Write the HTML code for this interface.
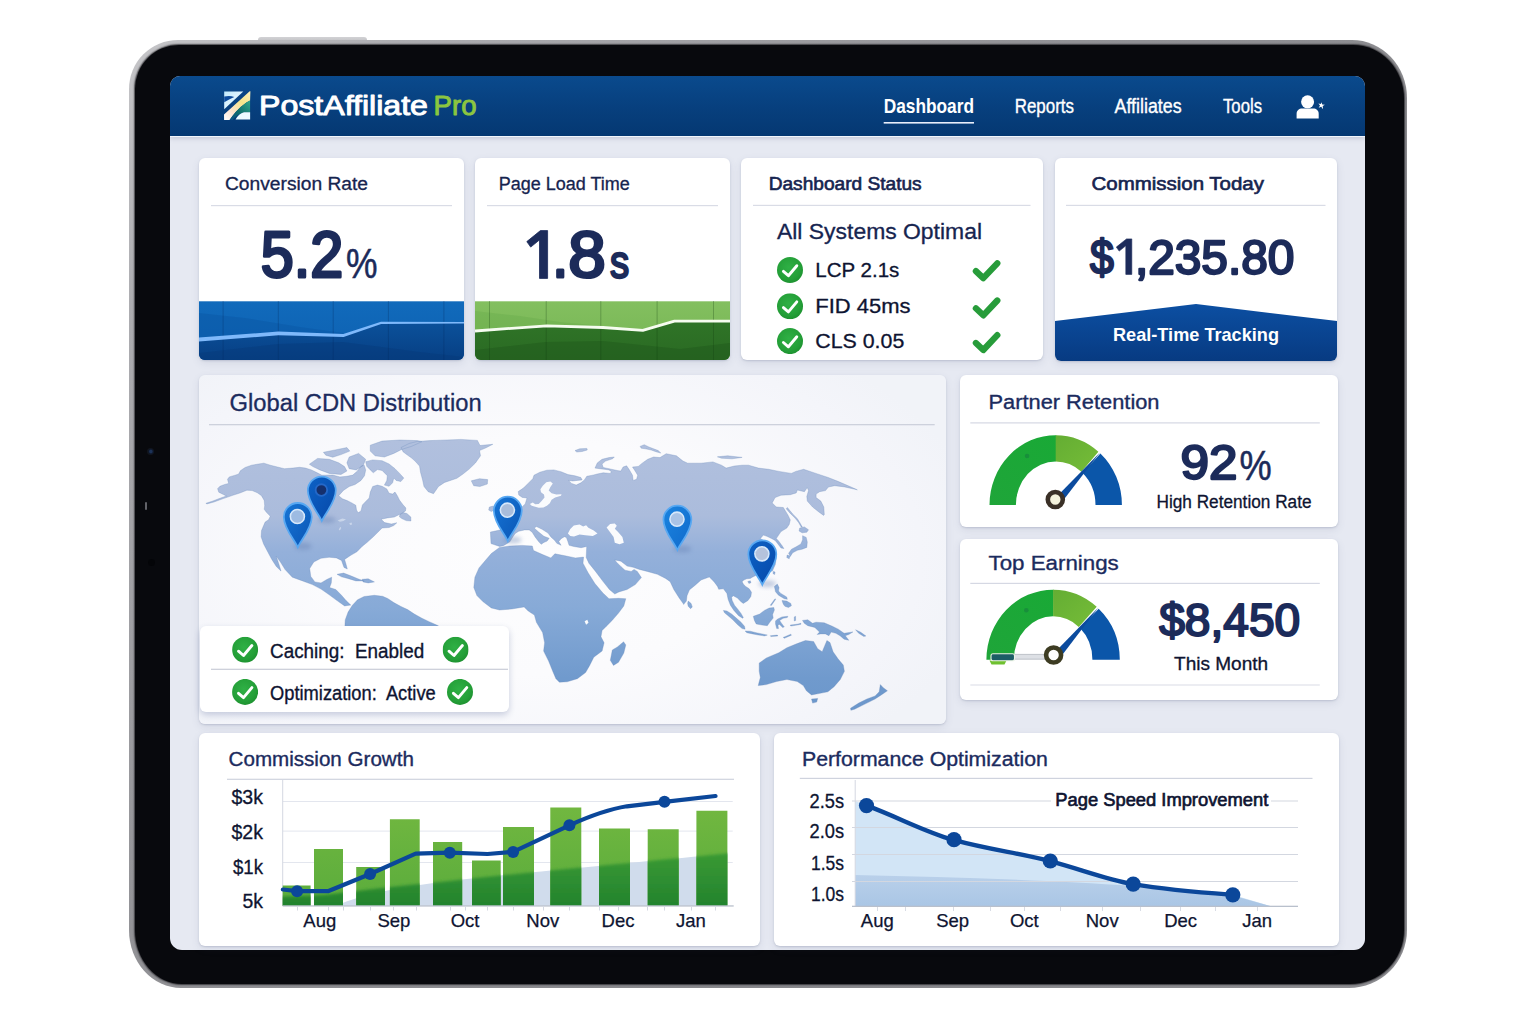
<!DOCTYPE html>
<html lang="en">
<head>
<meta charset="utf-8">
<title>Post Affiliate Pro Dashboard</title>
<style>
*{box-sizing:border-box;margin:0;padding:0}
html,body{width:1536px;height:1024px;overflow:hidden;background:#fff;font-family:"Liberation Sans",sans-serif}
.abs{position:absolute}
.btn-top{position:absolute;left:258px;top:36.5px;width:109px;height:8px;border-radius:3px 3px 0 0;background:linear-gradient(#d2d2d5,#b4b4b7)}
.tablet{position:absolute;left:129px;top:40px;width:1278px;height:947.5px;border-radius:49px 55px 58px 52px / 49px 58px 58px 58px;
  background:linear-gradient(135deg,#c6c6c9 0%,#adadb1 12%,#939397 40%,#88888c 70%,#8e8e92 100%)}
.bezel{position:absolute;left:5.5px;top:5px;right:3.5px;bottom:4px;border-radius:44px 51px 54px 47px / 44px 54px 54px 54px;background:#08090d;box-shadow:0 0 1.5px 1px rgba(20,20,24,.7)}
.screen{position:absolute;left:170px;top:76px;width:1195px;height:874px;border-radius:10px 10px 11px 12px;background:#e6e9f2;overflow:hidden}
.nav{position:absolute;left:0;top:0;width:1195px;height:60px;background:linear-gradient(#0a4a8d,#073f7d 55%,#053872);box-shadow:0 1px 0 #f1f5fc,0 3px 4px rgba(120,125,160,.25)}
.card{position:absolute;background:#fff;border-radius:6px;box-shadow:0 1px 2px rgba(70,80,120,.20),0 3px 8px rgba(70,80,120,.11);overflow:hidden}
.card svg{position:absolute;left:0;top:0;display:block}
svg text{font-family:"Liberation Sans",sans-serif}
.full{position:absolute;left:0;top:0;width:1536px;height:1024px;pointer-events:none}
</style>
</head>
<body>
<div class="btn-top"></div>
<div class="tablet"><div class="bezel"></div></div>
<div class="cam" style="position:absolute;left:147.3px;top:448px;width:7px;height:7px;border-radius:50%;background:radial-gradient(circle at 55% 50%,#1c3258 0 22%,#0e1626 45%,#121318 75%,#08090d 100%)"></div>
<div class="cam" style="position:absolute;left:145px;top:501.5px;width:1.6px;height:8px;border-radius:1px;background:#b9bcc4;opacity:.5"></div>
<div class="cam" style="position:absolute;left:147.5px;top:559px;width:7px;height:7px;border-radius:50%;background:#040508"></div>
<div class="screen">
  <div class="nav"></div>
</div>

<!-- CARDS (global coordinates) -->
<div id="cards">
  <div class="card" id="c1" style="left:199px;top:158px;width:265px;height:202px"></div>
  <div class="card" id="c2" style="left:475px;top:158px;width:255px;height:202px"></div>
  <div class="card" id="c3" style="left:741px;top:158px;width:302px;height:202px"></div>
  <div class="card" id="c4" style="left:1055px;top:158px;width:282px;height:202.5px"></div>
  <div class="card" id="c5" style="left:199px;top:375px;width:747px;height:348.5px;background:radial-gradient(ellipse 62% 75% at 44% 52%,#fdfdfe 0%,#fbfbfd 45%,#f4f5fa 85%,#f1f3f8 100%)"></div>
  <div class="card" id="c6" style="left:960px;top:375px;width:378px;height:152px"></div>
  <div class="card" id="c7" style="left:960px;top:539px;width:378px;height:161px"></div>
  <div class="card" id="c8" style="left:199px;top:733px;width:561px;height:213px"></div>
  <div class="card" id="c9" style="left:774px;top:733px;width:565px;height:213px"></div>
</div>

<!-- OVERLAY: all graphics + text in global pixel coordinates -->
<svg class="full" viewBox="0 0 1536 1024">
<defs>
  <clipPath id="k1"><rect x="199" y="158" width="265" height="202" rx="6"/></clipPath>
  <clipPath id="k2"><rect x="475" y="158" width="255" height="202" rx="6"/></clipPath>
  <clipPath id="k4"><rect x="1055" y="158" width="282" height="203" rx="6"/></clipPath>
  <linearGradient id="gBlueBan" x1="0" y1="0" x2="0" y2="1"><stop offset="0" stop-color="#0c4fa2"/><stop offset="1" stop-color="#073a81"/></linearGradient>
  <symbol id="okc" viewBox="0 0 26 26"><circle cx="13" cy="13" r="13" fill="url(#gOk)"/><path d="M6.4 14.4l5 4.3 8.4-10" fill="none" stroke="#fff" stroke-width="2.9" stroke-linecap="round" stroke-linejoin="round"/></symbol>
  <symbol id="chk" viewBox="0 0 28 24" overflow="visible"><path d="M4.2 11.6l7.4 7 14-14.8" fill="none" stroke="#279c3a" stroke-width="6.3" stroke-linecap="round" stroke-linejoin="round"/></symbol>
  <linearGradient id="gGreenL" x1="0" y1="1" x2="1" y2="0"><stop offset="0" stop-color="#1fa539"/><stop offset="1" stop-color="#19a936"/></linearGradient>
  <linearGradient id="gGreenR" x1="0" y1="0" x2="1" y2="1"><stop offset="0" stop-color="#64ad33"/><stop offset="1" stop-color="#76bd38"/></linearGradient>
  <linearGradient id="gBarTop" x1="0" y1="0" x2="0" y2="1"><stop offset="0" stop-color="#73b840"/><stop offset="1" stop-color="#5aac3c"/></linearGradient>
  <linearGradient id="gBarBot" x1="0" y1="0" x2="0" y2="1"><stop offset="0" stop-color="#3a9a34"/><stop offset="1" stop-color="#1f7f2c"/></linearGradient>
  <clipPath id="k5"><rect x="199" y="375" width="747" height="348.5" rx="6"/></clipPath>
  <linearGradient id="gLand" gradientUnits="userSpaceOnUse" x1="0" y1="440" x2="0" y2="720"><stop offset="0" stop-color="#b1c0de"/><stop offset=".27" stop-color="#abbcdc"/><stop offset=".4" stop-color="#94b0da"/><stop offset=".6" stop-color="#87aad7"/><stop offset=".85" stop-color="#709acd"/><stop offset="1" stop-color="#6a96cb"/></linearGradient>
  <linearGradient id="gPin" x1="0" y1="0" x2="1" y2="1"><stop offset="0" stop-color="#1675d6"/><stop offset="1" stop-color="#0a55b4"/></linearGradient>
  <linearGradient id="gPinL" x1="0" y1="0" x2="1" y2="1"><stop offset="0" stop-color="#1c84e0"/><stop offset="1" stop-color="#0f6acb"/></linearGradient>
  <linearGradient id="gPinD" x1="0" y1="0" x2="1" y2="1"><stop offset="0" stop-color="#0d62c6"/><stop offset="1" stop-color="#0648a8"/></linearGradient>
  <filter id="blur2" x="-50%" y="-50%" width="200%" height="200%"><feGaussianBlur stdDeviation="2.2"/></filter>
  <filter id="boxsh" x="-10%" y="-20%" width="120%" height="150%"><feGaussianBlur stdDeviation="3.5"/><feOffset dy="2.5"/><feComponentTransfer><feFuncA type="linear" slope=".32"/></feComponentTransfer></filter>
  <linearGradient id="gLogoB" x1="0" y1="0" x2="1" y2="1"><stop offset="0" stop-color="#bfe8fb"/><stop offset=".6" stop-color="#e4f6fe"/></linearGradient>
  <linearGradient id="gLogoY" gradientUnits="userSpaceOnUse" x1="224" y1="120" x2="250" y2="92"><stop offset="0" stop-color="#ffffff"/><stop offset=".3" stop-color="#fde3cf"/><stop offset=".65" stop-color="#f6e489"/><stop offset="1" stop-color="#fbf0b8"/></linearGradient>
  <linearGradient id="gLogoG" gradientUnits="userSpaceOnUse" x1="230" y1="120" x2="250" y2="102"><stop offset="0" stop-color="#0a4f86"/><stop offset=".45" stop-color="#0f6e6c"/><stop offset="1" stop-color="#2fa58a"/></linearGradient>
  <radialGradient id="gOk" cx=".45" cy=".4" r=".65"><stop offset="0" stop-color="#2fb045"/><stop offset=".7" stop-color="#249f38"/><stop offset="1" stop-color="#1c8f2e"/></radialGradient>
  <linearGradient id="gB1" x1="0" y1="0" x2="0" y2="1"><stop offset="0" stop-color="#116abb"/><stop offset="1" stop-color="#0d60b0"/></linearGradient>
  <linearGradient id="gB2" gradientUnits="userSpaceOnUse" x1="0" y1="322" x2="0" y2="361"><stop offset="0" stop-color="#0b519b"/><stop offset="1" stop-color="#073f83"/></linearGradient>
  <linearGradient id="gG1" x1="0" y1="0" x2="0" y2="1"><stop offset="0" stop-color="#83bf5f"/><stop offset="1" stop-color="#74b452"/></linearGradient>
  <linearGradient id="gG2" gradientUnits="userSpaceOnUse" x1="0" y1="321" x2="0" y2="361"><stop offset="0" stop-color="#2f7427"/><stop offset="1" stop-color="#2a6a23"/></linearGradient>
  <filter id="blur1" x="-5%" y="-20%" width="110%" height="140%"><feGaussianBlur stdDeviation="1.6"/></filter>
  <linearGradient id="gPerfLow" gradientUnits="userSpaceOnUse" x1="0" y1="875" x2="0" y2="906"><stop offset="0" stop-color="#b9d0ea"/><stop offset="1" stop-color="#aac6e5"/></linearGradient>
</defs>

<!-- NAV -->
<g id="nav">
  <g id="logo">
    <path d="M224.2 91.6H243.3L224.2 109.2z" fill="url(#gLogoB)"/>
    <path d="M224.2 96.6Q229.6 95.3 234.3 96.9Q229.4 98.9 224.2 102.3z" fill="#0b4a9c"/>
    <path d="M224 114.6L249.7 91.2L250.4 91.3L250.1 100.4L246.4 102.6Q240.6 106.6 235.7 112Q232 116.3 229.6 120.1H224.1z" fill="url(#gLogoY)"/>
    <path d="M250.1 100.4L246.4 102.6Q240.6 106.6 235.7 112Q232 116.3 229.6 120.1H232.6Q236 114.5 243.9 112.4H250.1z" fill="url(#gLogoG)"/>
    <path d="M235.6 119.4H250.1V112.3H244Q238.6 113.9 235.6 119.4z" fill="#ecfaff"/>
  </g>
  <text x="259" y="114.8" font-size="28.2" fill="#fff" stroke="#fff" stroke-width=".95" stroke-linejoin="round" textLength="169" lengthAdjust="spacingAndGlyphs">PostAffiliate</text>
  <text x="433.5" y="114.8" font-size="28.2" fill="#8cc540" stroke="#8cc540" stroke-width=".95" stroke-linejoin="round" textLength="43" lengthAdjust="spacingAndGlyphs">Pro</text>
  <text x="883.7" y="113" font-size="19.3" font-weight="bold" fill="#fff" textLength="90.3" lengthAdjust="spacingAndGlyphs">Dashboard</text>
  <rect x="883.7" y="122" width="90.3" height="1.6" fill="#e8eefb"/>
  <text x="1014.7" y="113" font-size="19.3" fill="#fff" stroke="#fff" stroke-width=".35" textLength="59.3" lengthAdjust="spacingAndGlyphs">Reports</text>
  <text x="1114.6" y="113" font-size="19.3" fill="#fff" stroke="#fff" stroke-width=".35" textLength="67" lengthAdjust="spacingAndGlyphs">Affiliates</text>
  <text x="1223" y="113" font-size="19.3" fill="#fff" stroke="#fff" stroke-width=".35" textLength="39" lengthAdjust="spacingAndGlyphs">Tools</text>
  <g id="user" fill="#fff">
    <circle cx="1307.6" cy="101.8" r="6.5"/>
    <path d="M1296.6 118.5v-4.6c0-3.4 2.4-5.3 5.6-5.3h10.9c3.2 0 5.6 1.9 5.6 5.3v4.6z"/>
    <path d="M1321.3 102.2l1 2.2 2.6.4-2.2 1.3.4 3.1-1.9-2.4-2.5 1 1.3-2.3-1.6-2 2.4.5z"/>
  </g>
</g>

<!-- CARD 1 -->
<g id="card1">
  <text x="225" y="190.4" font-size="18" fill="#16244f" stroke="#16244f" stroke-width=".3" textLength="143" lengthAdjust="spacingAndGlyphs">Conversion Rate</text>
  <rect x="211" y="205" width="241" height="1.2" fill="#d9dce6"/>
  <text x="260.8" y="277.2" font-size="65" fill="#1c2b5a" stroke="#1c2b5a" stroke-width="3.1" stroke-linejoin="round" textLength="82.5" lengthAdjust="spacingAndGlyphs">5.2</text>
  <text x="346" y="278.3" font-size="43" fill="#1c2b5a" stroke="#1c2b5a" stroke-width=".5" textLength="31.5" lengthAdjust="spacingAndGlyphs">%</text>
  <g clip-path="url(#k1)">
    <rect x="199" y="301.3" width="265" height="60" fill="url(#gB1)"/>
    <path d="M199 313L245 318L300 327L343.6 333L343.6 336L199 340z" fill="#0b5aa8" opacity=".55"/>
    <path d="M199 339.6L278.3 333.5L343.6 335.8L381.2 323.1L464 322.8V361H199z" fill="url(#gB2)"/>
    <path d="M199 353L278 344L343 342L420 352L464 357V361H199z" fill="#063a7a" opacity=".45"/>
    <g fill="#04285c" opacity=".28"><rect x="222.6" y="301" width="1" height="60"/><rect x="277.8" y="301" width="1" height="60"/><rect x="332.7" y="301" width="1" height="60"/><rect x="387.9" y="301" width="1" height="60"/><rect x="443.4" y="301" width="1" height="60"/></g>
    <path d="M199 341.5L278.3 335.3L343.6 337L381.2 324L464 323.6L464 322L381 321.8L343.3 334L278.3 331.6L199 337.6z" fill="#7fb9fb"/>
  </g>
</g>

<!-- CARD 2 -->
<g id="card2">
  <text x="498.7" y="190.4" font-size="18" fill="#16244f" stroke="#16244f" stroke-width=".3" textLength="131" lengthAdjust="spacingAndGlyphs">Page Load Time</text>
  <rect x="487" y="205" width="231" height="1.2" fill="#d9dce6"/>
  <g font-size="65" fill="#1c2b5a" stroke="#1c2b5a" stroke-width="3.1" stroke-linejoin="round"><polygon points="547.6,230.6 540.4,230.6 526.8,241.6 530.7,247.1 539.5,239.9 539.5,278.4 547.6,278.4" fill="#1c2b5a" stroke="#1c2b5a" stroke-width=".8" stroke-linejoin="round"/><text x="552.3" y="277.2" textLength="16" lengthAdjust="spacingAndGlyphs">.</text><text x="568.2" y="277.2" textLength="37.5" lengthAdjust="spacingAndGlyphs">8</text></g>
  <text x="610" y="277.8" font-size="46" fill="#1c2b5a" stroke="#1c2b5a" stroke-width="2.3" stroke-linejoin="round" textLength="19.2" lengthAdjust="spacingAndGlyphs">s</text>
  <g clip-path="url(#k2)">
    <rect x="475" y="301.3" width="255" height="60" fill="url(#gG1)"/>
    <path d="M475 311L520 316L560 322L603 326V328L475 331z" fill="#5fa447" opacity=".3"/>
    <path d="M475 331L546.7 325.8L603 327.5L642.8 330.3L674.4 321.2L730 321.2V361H475z" fill="url(#gG2)"/>
    <path d="M475 350L546 342L603 341L680 349L730 343V361H475z" fill="#1f5a1c" opacity=".5"/>
    <g fill="#123d10" opacity=".28"><rect x="489" y="301" width="1" height="60"/><rect x="545.7" y="301" width="1" height="60"/><rect x="600.3" y="301" width="1" height="60"/><rect x="656.6" y="301" width="1" height="60"/><rect x="713" y="301" width="1" height="60"/></g>
    <path d="M475 331L546.7 325.8L603 327.5L642.8 330.3L674.4 321.2L730 321.2" fill="none" stroke="#f6fcf0" stroke-width="2.8" stroke-linejoin="round"/>
  </g>
</g>

<!-- CARD 3 -->
<g id="card3">
  <text x="768.7" y="190.4" font-size="18" fill="#16244f" stroke="#16244f" stroke-width=".6" textLength="153" lengthAdjust="spacingAndGlyphs">Dashboard Status</text>
  <rect x="753" y="204.8" width="277.5" height="1.2" fill="#d9dce6"/>
  <text x="777" y="238.5" font-size="21.5" fill="#16244f" stroke="#16244f" stroke-width=".3" textLength="205" lengthAdjust="spacingAndGlyphs">All Systems Optimal</text>
  <use href="#okc" x="777" y="257" width="26" height="26"/>
  <use href="#okc" x="777" y="293.2" width="26" height="26"/>
  <use href="#okc" x="777" y="328.1" width="26" height="26"/>
  <g font-size="20" fill="#0e1431" stroke="#0e1431" stroke-width=".3">
  <text x="815.3" y="276.6" textLength="84" lengthAdjust="spacingAndGlyphs">LCP 2.1s</text>
  <text x="815.3" y="313.3" textLength="95.3" lengthAdjust="spacingAndGlyphs">FID 45ms</text>
  <text x="815.3" y="348.1" textLength="89" lengthAdjust="spacingAndGlyphs">CLS 0.05</text>
  </g>
  <use href="#chk" x="971.7" y="259.5" width="28" height="24"/>
  <use href="#chk" x="971.7" y="296.7" width="28" height="24"/>
  <use href="#chk" x="971.7" y="331.4" width="28" height="24"/>
</g>

<!-- CARD 4 -->
<g id="card4">
  <text x="1091.6" y="190.4" font-size="18" fill="#16244f" stroke="#16244f" stroke-width=".6" textLength="172.3" lengthAdjust="spacingAndGlyphs">Commission Today</text>
  <rect x="1066" y="204.8" width="259.5" height="1.2" fill="#d9dce6"/>
  <g font-size="48.2" fill="#1c2b5a" stroke="#1c2b5a" stroke-width="2.3" stroke-linejoin="round"><text x="1089.9" y="273.9" textLength="23.8" lengthAdjust="spacingAndGlyphs">$</text><text x="1134.9" y="273.9" textLength="159.5" lengthAdjust="spacingAndGlyphs">,235.80</text></g><polygon points="1131.8,238.9 1126.5,238.9 1116.3,247.1 1119.2,251.1 1125.8,245.8 1125.8,274.4 1131.8,274.4" fill="#1c2b5a" stroke="#1c2b5a" stroke-width=".6" stroke-linejoin="round"/>
  <g clip-path="url(#k4)">
    <path d="M1055 321L1196 304L1337 321V362H1055z" fill="url(#gBlueBan)"/>
  </g>
  <text x="1113" y="341" font-size="18.5" font-weight="bold" fill="#fff" textLength="166" lengthAdjust="spacingAndGlyphs">Real-Time Tracking</text>
</g>


<!-- CARD 6 : Partner Retention -->
<g id="card6">
  <text x="988.5" y="409.3" font-size="20" fill="#1b2b5e" stroke="#1b2b5e" stroke-width=".35" textLength="171" lengthAdjust="spacingAndGlyphs">Partner Retention</text>
  <rect x="970.3" y="422.3" width="349.5" height="1.2" fill="#d5d8e3"/>
  <path d="M989.5 505.0A66.2 69.8 0 0 1 1056.3 435.2L1056.0 461.5A39.8 43.5 0 0 0 1015.9 505.0z" fill="url(#gGreenL)"/>
  <path d="M1055.7 435.2A66.2 69.8 0 0 1 1098.4 451.7L1081.4 471.8A39.8 43.5 0 0 0 1055.7 461.5z" fill="url(#gGreenR)"/>
  <path d="M1100.4 453.5A66.2 69.8 0 0 1 1121.9 505.0L1095.5 505.0A39.8 43.5 0 0 0 1082.6 472.9z" fill="#0b56a9"/>
  <path d="M1054.6 498.8L1100.0 452.4L1060.2 504.2z" fill="#0b4b9e"/>
  
  <circle cx="1055.3" cy="499.5" r="7.5" fill="#f4f2dc" stroke="#3a3027" stroke-width="4.6"/>
  <circle cx="1027.1" cy="456" r="2.3" fill="#188f3b"/>
  <text x="1180.6" y="479.3" font-size="48" fill="#1c2b5a" stroke="#1c2b5a" stroke-width="2.3" stroke-linejoin="round" textLength="57" lengthAdjust="spacingAndGlyphs">92</text>
  <text x="1239.4" y="479.5" font-size="42.3" fill="#1c2b5a" stroke="#1c2b5a" stroke-width=".5" textLength="32.2" lengthAdjust="spacingAndGlyphs">%</text>
  <text x="1156.5" y="508.2" font-size="18" fill="#0e1431" stroke="#0e1431" stroke-width=".3" textLength="155" lengthAdjust="spacingAndGlyphs">High Retention Rate</text>
</g>

<!-- CARD 7 : Top Earnings -->
<g id="card7">
  <text x="988.5" y="569.8" font-size="20.5" fill="#1b2b5e" stroke="#1b2b5e" stroke-width=".35" textLength="130.3" lengthAdjust="spacingAndGlyphs">Top Earnings</text>
  <rect x="970.3" y="582.8" width="349.5" height="1.2" fill="#d5d8e3"/>
  <rect x="970.3" y="684.4" width="349.5" height="1.2" fill="#dfe2ea"/>
  <path d="M986.4 659.8A66.7 70.1 0 0 1 1053.7 589.7L1053.4 616.3A39.3 43.5 0 0 0 1013.8 659.8z" fill="url(#gGreenL)"/>
  <path d="M1053.1 589.7A66.7 70.1 0 0 1 1096.7 606.8L1078.8 626.9A39.3 43.5 0 0 0 1053.1 616.3z" fill="url(#gGreenR)"/>
  <path d="M1098.7 608.7A66.7 70.1 0 0 1 1119.8 659.8L1092.4 659.8A39.3 43.5 0 0 0 1080.0 628.1z" fill="#0b56a9"/>
  <path d="M1052.9 654.3L1098.4 607.4L1058.6 659.7z" fill="#0b4b9e"/>
  <path d="M989.5 660.5h17l-2 4h-13z" fill="#6fc030"/><rect x="1010" y="654.4" width="38" height="4.8" rx="1.5" fill="#dde0e5" stroke="#a9afb8" stroke-width=".7"/><rect x="991" y="653.7" width="23.5" height="7" rx="2" fill="#1c5c66" stroke="#e9f3e4" stroke-width="1.1"/>
  <circle cx="1053.6" cy="655" r="7.5" fill="#ffffff" stroke="#3d3c22" stroke-width="4.6"/>
  <circle cx="1026.3" cy="610.3" r="2.3" fill="#188f3b"/>
  <text x="1159.2" y="636.4" font-size="46" fill="#1c2b5a" stroke="#1c2b5a" stroke-width="2.1" stroke-linejoin="round" textLength="141" lengthAdjust="spacingAndGlyphs">$8,450</text>
  <text x="1174" y="670" font-size="18" fill="#0e1431" stroke="#0e1431" stroke-width=".3" textLength="94.2" lengthAdjust="spacingAndGlyphs">This Month</text>
</g>


<!-- CARD 8 : Commission Growth -->
<g id="card8">
  <text x="228.6" y="766.1" font-size="19.5" fill="#1b2b5e" stroke="#1b2b5e" stroke-width=".35" textLength="185.3" lengthAdjust="spacingAndGlyphs">Commission Growth</text>
  <rect x="227" y="778.7" width="507" height="1.2" fill="#cfd3de"/>
  <g fill="#e3e6ee"><rect x="282.7" y="801" width="450" height="1"/><rect x="282.7" y="830.6" width="450" height="1"/><rect x="282.7" y="862" width="450" height="1"/></g>
  <rect x="282.2" y="780" width="1" height="126" fill="#d4d8e2"/>
  <g font-size="20" fill="#0e1431" stroke="#0e1431" stroke-width=".3">
    <text x="231.5" y="804.3" textLength="31.5" lengthAdjust="spacingAndGlyphs">$3k</text>
    <text x="231.5" y="839.3" textLength="31.5" lengthAdjust="spacingAndGlyphs">$2k</text>
    <text x="233" y="873.6" textLength="30" lengthAdjust="spacingAndGlyphs">$1k</text>
    <text x="242.5" y="908.3" textLength="20.5" lengthAdjust="spacingAndGlyphs">5k</text>
  </g>
  <path d="M336 905.8C362 894 400 887 450 881C520 873 600 866 727.4 853.5V905.8z" fill="#d0dcec"/>
  <clipPath id="kbars"><rect x="282.7" y="885.6" width="27.9" height="20.2"/><rect x="314" y="849" width="29.0" height="56.8"/><rect x="356.2" y="867" width="28.8" height="38.8"/><rect x="389.9" y="819.3" width="29.8" height="86.5"/><rect x="433" y="842" width="29.2" height="63.8"/><rect x="472" y="860.5" width="28.7" height="45.3"/><rect x="503" y="827" width="31.0" height="78.8"/><rect x="550.3" y="807.6" width="31.0" height="98.2"/><rect x="599" y="828.4" width="31.0" height="77.4"/><rect x="647.7" y="829.3" width="31.0" height="76.5"/><rect x="696.4" y="810.7" width="31.0" height="95.1"/></clipPath>
  <g clip-path="url(#kbars)">
    <rect x="280" y="800" width="455" height="106" fill="url(#gBarTop)"/>
    <path d="M270 897L325 895C360 890 400 886 450 881C520 873 600 866 745 851.5V915H270z" fill="url(#gBarBot)" filter="url(#blur1)"/>
  </g>
  <rect x="282.7" y="905.3" width="451" height="1.3" fill="#b9c0cc"/>
  <g fill="#d4d8e2"><rect x="297" y="906.5" width="1" height="4" /><rect x="328" y="906.5" width="1" height="4" /><rect x="343" y="906.5" width="1" height="4" /><rect x="370" y="906.5" width="1" height="4" /><rect x="393" y="906.5" width="1" height="4" /><rect x="416" y="906.5" width="1" height="4" /><rect x="450" y="906.5" width="1" height="4" /><rect x="465" y="906.5" width="1" height="4" /><rect x="487" y="906.5" width="1" height="4" /><rect x="513" y="906.5" width="1" height="4" /><rect x="543" y="906.5" width="1" height="4" /><rect x="569" y="906.5" width="1" height="4" /><rect x="599" y="906.5" width="1" height="4" /><rect x="618" y="906.5" width="1" height="4" /><rect x="647" y="906.5" width="1" height="4" /><rect x="664" y="906.5" width="1" height="4" /><rect x="691" y="906.5" width="1" height="4" /><rect x="715" y="906.5" width="1" height="4" /></g>
  <path d="M282.9 889.5L297.1 891.2L328 891.2L370.1 874L415.7 853.6L449.8 852.7L487.5 854L513.1 851.9L569.4 825.3C590 816 610 809 626.9 806.3L664.5 801.8L715.5 796" fill="none" stroke="#0b479a" stroke-width="4.2" stroke-linejoin="round" stroke-linecap="round"/>
  <g fill="#0b479a"><circle cx="297.1" cy="891.2" r="6"/><circle cx="370.1" cy="874" r="6"/><circle cx="449.8" cy="852.7" r="6"/><circle cx="513.1" cy="851.9" r="6"/><circle cx="569.4" cy="825.3" r="6"/><circle cx="664.5" cy="801.8" r="6"/></g>
  <g font-size="18.5" fill="#0e1431" stroke="#0e1431" stroke-width=".25" text-anchor="middle">
    <text x="319.8" y="927.3">Aug</text><text x="393.9" y="927.3">Sep</text><text x="465.1" y="927.3">Oct</text>
    <text x="542.8" y="927.3">Nov</text><text x="618" y="927.3">Dec</text><text x="691" y="927.3">Jan</text>
  </g>
</g>

<!-- CARD 9 : Performance Optimization -->
<g id="card9">
  <text x="802" y="766.1" font-size="19.5" fill="#1b2b5e" stroke="#1b2b5e" stroke-width=".35" textLength="245.8" lengthAdjust="spacingAndGlyphs">Performance Optimization</text>
  <rect x="799.8" y="777.8" width="512.7" height="1.2" fill="#cfd3de"/>
  <path d="M855.2 801L866.3 805.4C900 818 925 832 953.5 839.9C990 850 1020 853 1050 861.1C1080 869 1105 879 1133.2 884.2C1170 890.5 1200 892.5 1232.8 894.8L1271 906.3H855.2z" fill="#d2e5f6"/>
  <path d="M855.2 875C950 877 1050 880 1133.2 886C1170 890.5 1200 892.5 1232.8 895.5L1271 906.3H855.2z" fill="url(#gPerfLow)"/>
  <g fill="#d3d7e0"><rect x="852" y="800.5" width="199" height="1"/><rect x="1271" y="800.5" width="27" height="1"/><rect x="852" y="827" width="446" height="1"/><rect x="852" y="854" width="446" height="1"/><rect x="852" y="881" width="446" height="1"/></g>
  <rect x="854.7" y="780" width="1" height="126" fill="#d4d8e2"/>
  <rect x="852" y="905.7" width="446" height="1.3" fill="#b9c0cc"/>
  <g fill="#d8dce5"><rect x="877" y="907" width="1" height="4" /><rect x="905" y="907" width="1" height="4" /><rect x="953" y="907" width="1" height="4" /><rect x="990" y="907" width="1" height="4" /><rect x="1024" y="907" width="1" height="4" /><rect x="1060" y="907" width="1" height="4" /><rect x="1102" y="907" width="1" height="4" /><rect x="1140" y="907" width="1" height="4" /><rect x="1180" y="907" width="1" height="4" /><rect x="1215" y="907" width="1" height="4" /><rect x="1257" y="907" width="1" height="4" /></g>
  <g font-size="20" fill="#0e1431" stroke="#0e1431" stroke-width=".3">
    <text x="809.6" y="807.6" textLength="34.5" lengthAdjust="spacingAndGlyphs">2.5s</text>
    <text x="809.6" y="838.2" textLength="34.5" lengthAdjust="spacingAndGlyphs">2.0s</text>
    <text x="811" y="869.7" textLength="33" lengthAdjust="spacingAndGlyphs">1.5s</text>
    <text x="811" y="900.7" textLength="33" lengthAdjust="spacingAndGlyphs">1.0s</text>
  </g>
  <rect x="1050" y="789" width="224" height="22" fill="#fff" opacity=".0"/>
  <text x="1055.3" y="806.3" font-size="18" fill="#0e1431" stroke="#0e1431" stroke-width=".65" textLength="213" lengthAdjust="spacingAndGlyphs">Page Speed Improvement</text>
  <path d="M866.3 805.4C900 818 925 832 953.5 839.9C990 850 1020 853 1050 861.1C1080 869 1105 879 1133.2 884.2C1170 890.5 1200 892.5 1232.8 894.8" fill="none" stroke="#0b479a" stroke-width="4.4" stroke-linecap="round"/>
  <g fill="#0b479a"><circle cx="866.5" cy="805.6" r="7.6"/><circle cx="954" cy="839.7" r="7.6"/><circle cx="1050.3" cy="861" r="7.6"/><circle cx="1133.2" cy="884.2" r="7.6"/><circle cx="1232.8" cy="894.8" r="7.6"/></g>
  <g font-size="18.5" fill="#0e1431" stroke="#0e1431" stroke-width=".25" text-anchor="middle">
    <text x="877.3" y="927.3">Aug</text><text x="952.6" y="927.3">Sep</text><text x="1024.3" y="927.3">Oct</text>
    <text x="1102.2" y="927.3">Nov</text><text x="1180.6" y="927.3">Dec</text><text x="1257.2" y="927.3">Jan</text>
  </g>
</g>

<!-- CARD 5 : Global CDN Distribution -->
<g id="card5">
  <text x="229.6" y="411.3" font-size="23" fill="#1b2b5e" stroke="#1b2b5e" stroke-width=".3" textLength="252" lengthAdjust="spacingAndGlyphs">Global CDN Distribution</text>
  <rect x="209" y="424" width="725.7" height="1.3" fill="#cdd1dc"/>
  <g clip-path="url(#k5)">
    <path id="land" fill="url(#gLand)" stroke="#6d8cbd" stroke-opacity=".45" stroke-width=".7" stroke-linejoin="round" d="M205.9 503.3L212.9 501.0L219.9 498.3L226.4 496.0L223.4 494.5L218.8 492.2L217.6 488.7L219.9 486.3L224.6 484.5L228.7 483.4L227.5 479.3L229.3 476.9L235.2 475.2L238.7 474.0L240.4 470.7L245.1 467.5L251.6 465.2L258.6 464.0L263.9 463.2L270.3 465.2L277.4 467.0L284.4 468.7L292.6 468.1L299.6 467.3L305.5 468.1L311.4 469.9L317.2 472.8L321.9 475.2L332.8 475.1L339.9 476.9L346.9 476.3L352.8 475.1L357.4 471.0L361.0 466.3L364.2 465.2L365.7 469.9L364.5 475.7L361.0 480.4L355.1 484.5L349.2 486.5L343.4 490.4L338.7 495.7L342.4 498.8L347.1 500.6L351.8 502.9L355.8 505.3L356.5 510.0L358.1 512.8L361.0 510.9L362.4 505.0L365.7 501.5L369.2 498.0L370.3 492.1L372.7 486.5L377.4 485.1L382.1 486.3L386.8 488.9L389.1 493.3L392.6 494.0L395.0 492.1L397.3 495.7L399.6 500.3L403.2 505.0L405.9 508.0L405.5 510.9L400.8 513.8L394.4 517.0L387.3 517.9L381.1 519.3L384.6 522.6L391.4 524.0L396.8 522.8L393.8 525.5L389.1 527.5L382.1 528.0L373.3 536.8L367.2 542.3L362.1 546.4L356.9 551.8L350.8 555.3L344.6 559.4L346.1 564.5L347.3 569.0L344.0 567.4L341.5 560.4L336.4 557.9L329.2 557.3L321.0 558.3L313.8 562.0L309.7 568.6L310.8 576.4L314.9 581.9L321.0 582.9L327.2 579.3L331.7 577.2L331.3 582.9L329.6 587.5L335.8 589.5L341.5 595.3L346.1 600.6L350.8 605.1L344.6 605.9L337.0 600.6L329.2 594.8L321.0 589.1L312.4 584.6L302.6 580.9L292.3 577.2L285.1 569.6L280.4 562.0L276.3 556.3L279.0 564.5L281.0 571.1L276.3 566.5L271.8 559.4L267.7 551.8L263.6 544.0L261.1 536.8L261.5 530.6L265.1 522.1L268.6 519.7L270.3 516.2L266.2 512.1L264.2 509.2L264.7 505.7L264.2 500.4L261.5 495.7L257.4 492.8L252.2 490.6L246.9 490.2L239.9 493.0L232.8 495.3L223.4 498.6L214.1 501.9L207.0 503.9zM399.9 514.6L403.2 512.6L406.9 513.5L410.8 517.0L410.9 521.0L406.1 520.6L401.8 518.6L399.4 516.8zM365.7 461.7L372.7 459.9L382.1 460.7L389.1 464.0L395.0 468.7L399.6 473.4L403.8 478.1L400.8 481.6L396.1 480.4L393.8 478.1L392.6 482.8L389.1 486.3L384.4 485.1L386.8 480.4L387.3 475.7L382.1 470.4L377.4 469.6L373.3 472.8L370.3 469.9L366.8 466.3zM309.4 464.2L317.6 458.4L329.3 459.3L338.7 462.8L344.5 466.6L346.9 471.0L341.0 474.5L329.3 473.4L319.9 469.9L312.9 466.6zM323.4 452.3L335.2 449.9L346.9 447.6L349.8 451.1L341.0 454.6L332.8 457.2L325.8 455.2zM349.2 457.0L358.6 453.4L365.7 459.3L363.3 465.2L356.3 469.9L349.2 468.7L346.9 462.8zM370.3 445.2L382.1 441.1L399.6 440.0L417.2 440.6L421.9 441.7L411.4 446.4L402.0 449.3L393.8 453.4L384.4 457.0L375.0 455.8L370.3 451.1zM401.0 447.6L409.0 443.5L417.4 441.4L430.0 440.6L440.5 440.2L461.0 439.4L477.4 440.4L480.0 445.5L492.8 444.3L486.0 447.8L479.5 450.6L480.5 455.8L475.4 463.0L469.2 469.1L463.0 474.0L456.9 478.3L444.6 482.4L438.5 486.5L433.5 493.7L428.2 491.7L424.0 486.5L422.6 480.0L420.5 472.2L419.5 466.0L415.0 461.0L411.3 457.8L406.0 454.0L403.0 451.7zM471.3 480.8L479.5 478.7L487.7 479.6L487.3 484.1L479.9 486.5L473.7 485.7zM337.0 574.3L343.6 573.1L350.8 575.8L357.9 578.8L364.1 580.9L355.9 580.9L347.7 578.4L341.5 576.8zM362.1 579.3L368.2 578.8L374.4 581.9L368.2 582.9L363.1 581.9zM344.6 632.2L345.2 619.9L348.1 612.1L352.2 605.5L357.5 599.8L364.1 596.5L374.4 595.3L382.6 596.3L387.7 598.5L393.8 602.6L401.0 606.5L407.6 609.6L414.4 614.1L421.9 618.2L429.7 621.9L437.9 625.6L446.2 632.2zM499.6 546.4L491.0 543.6L490.4 532.1L500.0 530.0L510.3 530.6L512.7 523.5L508.2 518.3L513.3 515.3L522.3 506.8L525.2 503.9L527.0 498.0L522.3 497.4L518.8 495.1L518.2 491.6L523.4 488.1L528.1 483.4L532.8 478.7L534.0 475.2L539.9 472.2L546.9 470.2L553.9 469.9L561.0 471.7L568.0 474.6L575.0 475.8L580.9 477.5L582.1 479.9L577.4 480.4L572.7 481.0L568.6 480.4L571.5 483.4L576.2 485.1L580.9 482.8L584.4 479.9L586.8 476.3L592.6 475.2L597.3 474.0L603.2 472.8L610.2 473.4L611.4 471.7L609.0 469.9L604.3 469.3L599.6 468.7L595.0 468.1L597.3 462.9L602.0 459.3L609.0 457.6L614.3 457.0L612.5 458.8L605.5 461.1L602.0 464.0L603.2 467.5L609.0 468.7L617.2 470.5L620.8 471.1L623.1 467.0L626.6 465.8L629.0 469.3L632.5 475.2L633.1 480.4L636.6 479.3L637.7 475.2L634.8 470.5L632.5 467.0L638.3 466.4L641.9 463.4L647.7 459.3L653.6 457.0L660.0 457.6L666.2 453.7L676.4 455.8L683.0 461.1L687.7 463.2L701.0 463.2L712.9 461.9L721.5 465.2L726.1 468.1L734.3 466.0L742.1 465.2L748.6 465.2L758.5 468.1L768.7 469.3L779.0 471.4L791.3 473.4L795.8 471.4L803.6 469.3L815.9 473.4L828.2 477.5L838.5 481.6L852.8 487.8L857.3 489.8L844.6 486.9L834.8 485.7L828.4 487.0L825.5 490.6L819.6 491.7L816.1 494.1L816.1 497.6L820.8 501.1L823.8 507.0L824.3 514.6L823.6 515.4L818.5 511.7L812.6 507.0L807.3 501.1L806.8 496.4L808.5 490.6L807.3 487.6L804.4 491.7L797.4 490.0L796.2 492.9L790.3 494.7L781.0 495.2L775.1 497.6L772.2 502.9L776.3 507.0L783.3 507.5L788.0 515.2L790.3 519.9L789.2 524.5L786.8 528.1L781.0 531.6L778.6 535.1L776.3 538.6L778.6 541.0L782.1 545.7L783.9 548.6L781.0 548.0L777.4 543.3L775.1 540.4L771.6 538.6L766.9 536.3L763.4 535.1L760.4 538.4L770.8 546.0L776.5 556.3L775.3 564.5L772.4 571.1L760.9 573.5L757.4 574.7L752.7 577.0L750.3 578.4L746.8 578.8L743.9 580.0L742.1 581.7L743.3 584.1L745.7 586.4L749.2 588.8L751.5 592.3L750.9 596.4L748.0 600.5L743.3 603.4L741.0 601.7L737.4 598.1L733.3 595.8L731.6 597.2L732.2 600.5L734.5 605.2L737.4 608.7L741.0 613.4L743.3 617.5L742.7 618.3L738.6 615.7L733.9 610.4L730.4 605.2L728.1 599.3L726.9 593.4L723.4 588.8L718.7 589.3L717.5 586.4L714.0 581.7L709.3 577.0L701.1 580.0L695.2 585.2L689.4 589.9L687.0 595.8L686.4 601.1L683.5 604.6L683.7 604.3L679.0 597.7L673.8 589.5L670.2 581.7L665.6 578.4L657.4 574.3L647.2 571.4L639.4 569.4L633.2 567.3L627.1 566.1L620.9 561.2L614.8 559.9L616.8 562.4L620.9 566.5L625.0 570.2L631.2 571.4L634.1 569.4L637.3 571.4L641.4 577.6L635.3 584.6L627.1 589.5L618.9 591.9L614.8 594.0L609.4 589.5L602.9 581.3L595.5 571.4L588.9 563.2L586.2 557.4L586.7 546.5L581.1 547.7L573.8 546.5L569.1 545.3L567.9 541.6L566.4 537.5L564.4 536.7L561.1 538.7L558.8 541.6L561.1 545.3L556.8 543.3L554.8 540.6L550.9 536.9L548.0 533.1L542.1 529.3L536.5 526.6L534.2 528.1L538.6 532.0L543.9 536.3L549.2 538.3L547.1 541.1L543.9 542.4L541.2 544.3L538.6 541.6L535.1 536.9L532.2 532.2L529.2 529.9L524.5 529.9L518.7 531.3L515.2 533.4L512.8 536.9L509.9 541.8L503.4 545.7zM489.3 507.1L493.4 506.0L494.9 509.5L491.4 511.6L488.7 510.1zM575.0 450.6L579.7 448.8L586.8 448.4L587.3 450.0L582.1 451.5L576.8 452.0zM640.1 446.4L644.2 444.7L648.9 447.0L653.6 448.8L658.3 450.6L660.8 453.1L655.9 451.7L651.2 450.0L645.4 448.8L641.3 448.2zM717.4 456.8L727.7 455.8L742.1 457.4L731.8 458.8L721.5 458.2zM787.4 507.5L792.7 514.0L797.4 518.7L800.9 524.5L802.3 527.1L801.1 526.9L798.8 522.8L795.0 518.1L790.3 513.4L786.2 508.7zM799.7 528.1L804.4 526.9L808.5 529.8L806.8 532.2L802.1 532.8L799.1 531.0zM802.6 535.7L806.2 537.4L807.3 542.1L806.8 547.4L802.1 549.2L797.4 550.3L792.7 552.7L790.3 556.4L788.6 553.3L791.5 549.2L796.2 546.8L800.9 543.9L802.6 539.8zM787.1 555.0L789.9 556.0L789.2 558.8L786.8 557.6zM773.3 571.4L775.1 572.0L774.6 574.5L773.0 573.6zM499.5 547.4L509.7 546.0L522.1 545.4L532.3 546.0L533.5 550.5L542.6 554.6L550.8 557.9L554.9 553.8L565.1 555.8L575.4 557.9L583.6 557.1L583.0 563.2L588.1 572.7L594.9 583.5L602.9 593.0L609.0 598.7L618.5 598.3L625.8 598.7L623.8 605.9L618.5 613.1L612.3 620.3L606.2 626.4L602.1 630.5L601.0 636.7L604.1 642.8L602.1 651.0L593.8 657.2L589.7 665.4L585.6 672.6L577.4 678.7L567.2 681.8L559.4 682.2L555.9 678.7L552.8 671.5L548.7 661.3L543.6 651.0L544.6 642.8L542.6 632.6L536.4 622.3L534.4 615.1L528.2 611.0L524.1 606.9L511.8 609.0L499.5 610.0L491.3 607.9L483.1 601.8L476.9 595.6L473.8 587.4L474.9 577.2L479.0 567.9L485.1 560.8L491.3 553.6zM623.6 641.8L625.8 644.9L623.8 653.1L618.5 662.3L613.5 665.4L610.3 660.3L612.3 650.0L617.4 646.9zM688.2 601.1L691.1 603.4L692.3 606.9L690.6 608.7L688.2 606.3L687.6 603.4zM759.2 663.1L766.4 657.9L778.7 652.8L786.9 647.7L797.2 643.6L805.4 640.5L813.6 641.5L817.7 648.7L822.2 651.8L826.9 640.5L830.0 642.6L833.1 651.8L838.2 659.0L843.3 665.1L844.4 671.3L840.3 679.5L834.1 686.7L827.9 691.8L817.7 693.8L811.5 694.9L806.4 690.8L803.3 685.6L797.2 681.5L786.9 679.5L776.7 681.5L766.4 684.6L758.2 685.6L760.3 677.4L759.2 671.3zM811.5 699.0L817.7 698.4L816.7 702.1L812.6 703.1zM850.5 708.2L858.7 703.1L866.9 699.0L875.1 695.9L879.2 691.8L880.3 684.6L883.3 687.7L887.4 690.8L881.3 694.9L875.1 699.0L864.9 704.1L854.6 709.2L850.9 710.3zM802.5 620.4L807.8 619.8L812.5 623.3L816.0 622.2L824.2 622.8L832.4 626.3L838.3 629.2L844.1 633.3L852.9 631.9L848.8 634.5L845.3 635.7L848.8 640.3L844.1 639.2L840.0 635.7L835.9 633.3L831.2 632.1L828.9 635.7L825.4 633.9L820.7 633.9L817.2 634.5L819.5 632.1L814.8 627.4L807.8 625.7L804.3 623.3zM745.1 631.0L750.3 631.2L756.2 632.7L762.1 633.9L767.3 635.1L764.4 635.9L758.5 635.1L752.7 633.9L746.8 632.7zM770.3 635.7L777.3 635.1L777.9 636.0L770.9 636.6zM783.2 637.4L790.8 634.2L791.4 635.2L784.3 638.3zM723.4 610.4L726.9 611.0L731.6 614.0L736.3 618.1L741.0 622.2L744.5 626.3L745.1 629.2L742.1 628.6L737.4 624.5L732.8 619.8L728.1 615.7L724.5 612.8zM753.3 616.3L759.7 614.0L764.4 610.4L769.1 608.1L773.8 607.5L774.4 609.9L772.6 614.5L773.2 618.1L770.3 621.6L767.3 625.7L762.1 625.1L756.2 623.9L754.4 620.4zM770.3 605.2L775.0 598.7L775.7 599.3L771.4 605.4zM777.3 619.2L782.0 616.9L787.9 616.3L787.3 617.5L783.2 618.3L779.6 620.4L782.0 623.9L784.3 626.9L782.6 627.4L779.6 624.5L777.9 625.1L778.5 628.6L776.7 628.6L775.5 623.9L775.5 621.0zM794.3 616.9L795.6 616.3L795.6 620.4L794.3 621.0zM790.2 625.1L797.2 624.2L800.8 623.3L801.0 624.2L797.2 625.1L790.8 626.0zM774.4 586.4L777.3 584.1L779.1 587.6L778.5 591.1L780.8 593.4L783.8 595.2L786.7 597.0L787.3 599.3L784.3 598.7L781.4 597.0L778.5 595.2L775.5 591.7zM782.0 600.5L786.7 601.1L790.8 603.4L791.4 605.8L788.4 607.5L784.9 606.3L783.2 604.0zM747.8 581.5L750.3 580.8L751.0 582.7L748.9 583.4zM855.6 629.8L860.8 632.3L865.9 636.0L863.8 636.4L858.7 633.3z"/>
    <path id="seas" fill="#fafbfd" d="M567.9 533.6L570.3 528.9L573.8 525.4L579.6 524.6L583.2 526.6L586.1 525.2L588.4 527.7L593.7 530.4L597.5 533.4L592.8 536.0L585.5 535.3L579.6 534.5L574.0 536.4L570.3 536.0zM606.6 527.5L610.1 524.0L614.8 523.4L616.8 525.8L614.8 528.7L618.3 532.2L622.4 536.9L623.8 542.8L619.5 544.2L614.8 542.8L613.6 536.9L610.1 532.2zM546.3 482.2L550.4 481.6L552.8 483.6L550.4 486.9L548.7 490.4L551.6 493.3L556.3 494.5L561.5 494.2L561.0 495.7L555.1 497.4L551.6 499.8L549.8 503.3L546.9 505.7L543.4 507.4L538.7 507.8L535.2 506.8L531.7 505.7L529.9 503.9L532.8 502.4L535.2 504.2L538.7 503.9L541.6 501.0L544.5 497.4L544.0 494.5L541.0 492.2L540.4 489.2L542.8 485.7zM584.6 621.3L587.3 619.8L588.5 622.7L586.1 624.8z"/>
    <path id="lakes" fill="#e6ecf6" opacity=".55" d="M337.7 520.5L342.2 518.5L346.0 519.3L343.4 520.9L339.9 521.7zM338.7 529.6L340.4 526.7L341.3 527.9L339.9 530.6zM349.2 523.2L351.6 522.6L352.2 524.4L350.2 525.0z"/>
    <ellipse cx="326.8" cy="519.9" rx="9" ry="3.5" fill="#5b78ad" opacity=".35" filter="url(#blur2)"/><g transform="translate(321.8 520.9) scale(1.035)"><path d="M0 0C-3.3 -7.5 -13.5 -18 -13.5 -29.3A13.5 13.5 0 1 1 13.5 -29.3C13.5 -18 3.3 -7.5 0 0z" fill="url(#gPinD)" stroke="#58a8f2" stroke-width="1.7"/><circle cx="-.4" cy="-29.8" r="5.6" fill="#15306d" stroke="#2468c8" stroke-width="1.8"/></g><ellipse cx="302.8" cy="546.3" rx="9" ry="3.5" fill="#5b78ad" opacity=".35" filter="url(#blur2)"/><g transform="translate(297.8 547.3) scale(1.035)"><path d="M0 0C-3.3 -7.5 -13.5 -18 -13.5 -29.3A13.5 13.5 0 1 1 13.5 -29.3C13.5 -18 3.3 -7.5 0 0z" fill="url(#gPin)" stroke="#58a8f2" stroke-width="1.7"/><circle cx="-.4" cy="-29.8" r="6.8" fill="#9dbbe2" stroke="#d6e8fb" stroke-width="1.5"/></g><ellipse cx="512.8" cy="540" rx="9" ry="3.5" fill="#5b78ad" opacity=".35" filter="url(#blur2)"/><g transform="translate(507.8 541) scale(1.035)"><path d="M0 0C-3.3 -7.5 -13.5 -18 -13.5 -29.3A13.5 13.5 0 1 1 13.5 -29.3C13.5 -18 3.3 -7.5 0 0z" fill="url(#gPin)" stroke="#58a8f2" stroke-width="1.7"/><circle cx="-.4" cy="-29.8" r="6.8" fill="#a9bddb" stroke="#d6e8fb" stroke-width="1.5"/></g><ellipse cx="682.4" cy="549" rx="9" ry="3.5" fill="#5b78ad" opacity=".35" filter="url(#blur2)"/><g transform="translate(677.4 550) scale(1.035)"><path d="M0 0C-3.3 -7.5 -13.5 -18 -13.5 -29.3A13.5 13.5 0 1 1 13.5 -29.3C13.5 -18 3.3 -7.5 0 0z" fill="url(#gPinL)" stroke="#58a8f2" stroke-width="1.7"/><circle cx="-.4" cy="-29.8" r="6.8" fill="#a9c3e6" stroke="#d6e8fb" stroke-width="1.5"/></g><ellipse cx="767.3" cy="583.7" rx="9" ry="3.5" fill="#5b78ad" opacity=".35" filter="url(#blur2)"/><g transform="translate(762.3 584.7) scale(1.035)"><path d="M0 0C-3.3 -7.5 -13.5 -18 -13.5 -29.3A13.5 13.5 0 1 1 13.5 -29.3C13.5 -18 3.3 -7.5 0 0z" fill="url(#gPinD)" stroke="#58a8f2" stroke-width="1.7"/><circle cx="-.4" cy="-29.8" r="6.8" fill="#b5c3dc" stroke="#d6e8fb" stroke-width="1.5"/></g>
  </g>
  <!-- caching box -->
  <rect x="200" y="626" width="309" height="86" rx="6" fill="#5a6a9a" filter="url(#boxsh)"/>
  <rect x="200" y="626" width="309" height="86" rx="6" fill="#fff"/>
  <rect x="211" y="668.7" width="297" height="1.2" fill="#c9cdd8"/>
  <use href="#okc" x="232.1" y="636.8" width="26" height="26"/><use href="#okc" x="442.6" y="636.8" width="26" height="26"/>
  <use href="#okc" x="232.1" y="678.9" width="26" height="26"/><use href="#okc" x="447" y="678.9" width="26" height="26"/>
  <g font-size="19.7" fill="#0e1431" stroke="#0e1431" stroke-width=".35">
  <text x="270.1" y="657.6" textLength="154.1" lengthAdjust="spacingAndGlyphs" xml:space="preserve">Caching:  Enabled</text>
  <text x="270.1" y="699.6" textLength="165.6" lengthAdjust="spacingAndGlyphs" xml:space="preserve">Optimization:  Active</text></g>
</g>

<!--MORE-->
</svg>
</body>
</html>
